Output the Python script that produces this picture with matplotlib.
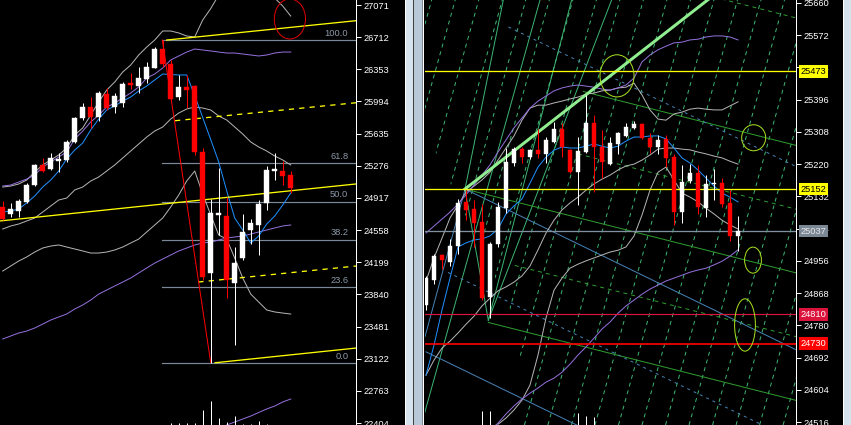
import matplotlib
matplotlib.use("Agg")
import matplotlib.pyplot as plt
from matplotlib.patches import Rectangle, Ellipse, Polygon
import numpy as np

plt.rcParams['font.family'] = ['Liberation Sans', 'DejaVu Sans']

# ================= LEFT PANEL DATA =================
L_open = [24819,24738,24771,24875,25061,25285,25240,25335,25341,25545,25810,25932,25821,26078,25932,25974,26204,26167,26245,26371,
          26583,26412,26044,26159,26167,25433,24082,24732,24721,23962,24246,24559,24615,24860,25223,25218,25173]
L_high = [24883,24864,24902,25087,25296,25360,25415,25419,25564,25824,25974,26047,26114,26141,26085,26215,26309,26382,26438,26606,
          26680,26457,26290,26290,26178,25471,24902,25248,24931,24364,24743,24682,24894,25274,25415,25333,25218]
L_low = [24670,24701,24708,24857,25050,25203,25229,25210,25322,25527,25787,25695,25779,25899,25862,25936,26130,26085,26197,26364,
         26382,25992,26010,25918,25396,23999,23074,24503,23800,23275,24224,24403,24280,24782,25117,25061,24972]
L_close = [24682,24794,24883,25061,25285,25221,25360,25346,25545,25810,25932,25821,26085,25921,26055,26189,26178,26256,26379,26583,
           26412,26022,26159,26122,25433,24034,24749,24749,23999,24190,24537,24632,24849,25229,25235,25165,25028]

L_blue = [24760,24771,24794,24861,24939,25039,25117,25218,25352,25452,25530,25676,25798,25899,25944,25999,26044,26111,26167,26234,
          26301,26295,26290,26290,26058,25815,25568,25318,24995,24693,24559,24414,24492,24626,24715,24838,24972]
L_purple_fast = [25050,25061,25095,25128,25173,25262,25318,25374,25430,25575,25664,25765,25843,25932,25977,26033,26089,26156,26256,26301,
                 26368,26457,26502,26546,26580,26569,26558,26546,26535,26535,26524,26513,26502,26513,26535,26546,26546]
L_purple_slow = [23342,23376,23409,23431,23465,23509,23554,23588,23621,23677,23722,23777,23844,23889,23934,23978,24023,24079,24135,24190,
                 24235,24280,24325,24358,24392,24414,24425,24447,24470,24481,24492,24514,24537,24559,24582,24604,24615]
L_purple_low = [np.nan]*28 + [22382,22415,22449,22482,22522,22561,22594,22639,22672]
L_band_up = [25039,25050,25073,25117,25207,25285,25341,25397,25475,25620,25698,25843,25988,26122,26211,26323,26401,26513,26602,26680,
             26781,26781,26759,26725,26714,26904,27031,27183,27350,27450,27500,27450,27350,27250,27149,27060,26948]
L_band_mid = [24570,24604,24626,24660,24693,24760,24827,24894,24916,25006,25039,25106,25151,25218,25285,25363,25441,25519,25597,25664,
              25709,25798,25865,25910,25932,25921,25899,25832,25787,25709,25631,25542,25486,25441,25385,25341,25285]
L_band_low = [24101,24157,24213,24258,24313,24358,24380,24392,24369,24347,24325,24302,24302,24313,24336,24369,24414,24458,24537,24615,
              24693,24816,24950,25106,25218,24961,24727,24503,24458,24246,24023,23844,23755,23666,23644,23632,23621]
L_volume = [np.nan]*21 + [2,2,2,2,15,24,7,3,9,1.5,1.5,4,1.5] + [np.nan]*3

L_ticks = [27071,26712,26353,25994,25635,25276,24917,24558,24199,23840,23481,23122,22763,22404]
fib_high, fib_low, fib_bar = 26680, 23074, 19.95
fib_levels = [100.0, 61.8, 50.0, 38.2, 23.6, 0.0]
# trend lines: (bar0, price0, bar1, price1)
L_yellow_solid = [(-0.34, 24660, 44.16, 25073), (20.5, 26680, 44.16, 26896), (26.54, 23077, 44.16, 23241)]
L_yellow_dash = [(21.54, 25779, 44.16, 25980), (24.45, 23978, 44.16, 24157)]
L_red_line = (19.95, 26680, 26.0, 23077)
L_red_ellipse = (35.9, 26915, 3.9, 447)

# ================= RIGHT PANEL DATA =================
R_open = [24835,24904,24971,24954,24997,25117,25097,25061,24858,25002,25099,25224,25261,25240,25259,25249,25281,25315,25259,25199,
          25254,25331,25268,25220,25275,25298,25320,25329,25290,25266,25288,25240,25090,25174,25197,25101,25166,25169,25115,25024]
R_high = [24915,24975,24975,25017,25125,25150,25122,25111,25008,25117,25265,25268,25268,25261,25315,25295,25336,25331,25261,25295,
          25409,25354,25313,25295,25308,25333,25338,25331,25304,25299,25299,25249,25218,25220,25218,25190,25206,25181,25149,25078]
R_low = [24822,24893,24935,24942,24976,25067,24995,24849,24800,24995,25088,25215,25224,25233,25236,25224,25277,25240,25197,25108,
         25250,25145,25182,25218,25248,25295,25316,25288,25251,25249,25213,25054,25060,25169,25084,25076,25122,25104,25011,24984]
R_close = [24909,24969,24957,24996,25113,25095,25060,24855,25002,25102,25227,25261,25240,25259,25249,25286,25316,25266,25199,25256,
           25331,25268,25227,25277,25304,25322,25329,25290,25266,25286,25237,25090,25172,25197,25104,25166,25169,25111,25024,25037]

R_blue = [24644,24726,24822,24909,24994,25005,25013,25016,25024,25043,25084,25106,25125,25168,25212,25239,25258,25267,25264,25264,
          25269,25275,25269,25264,25269,25283,25294,25294,25297,25297,25289,25264,25237,25223,25204,25182,25160,25141,25130,25117]
R_band_up = [24901,24964,25018,25073,25108,25144,25160,25177,25198,25231,25264,25297,25340,25373,25381,25381,25387,25392,25398,25403,
             25411,25414,25420,25422,25428,25430,25441,25409,25368,25343,25340,25357,25362,25370,25373,25370,25368,25368,25379,25390]
R_band_mid = [24644,24685,24718,24737,24759,24783,24805,24833,24854,24874,24885,24898,24915,24942,24986,25032,25067,25095,25114,25130,
              25149,25166,25179,25190,25204,25215,25220,25231,25245,25261,25264,25264,25261,25259,25253,25248,25242,25237,25228,25220]
R_band_low = [np.nan]*9 + [24510,24527,24549,24576,24617,24699,24800,24876,24909,24936,24947,24956,24964,24972,24980,24985,24994,
                           25024,25081,25149,25198,25212,25177,25141,25130,25117,25100,25084,25067,25054,25043]
R_purple_fast = [25032,25051,25070,25089,25111,25136,25163,25190,25218,25253,25286,25319,25346,25373,25392,25406,25420,25428,25433,25436,
                 25433,25430,25425,25422,25428,25436,25455,25499,25518,25532,25542,25551,25553,25559,25561,25567,25570,25570,25567,25559]
R_purple_slow = [np.nan]*8 + [24494,24513,24538,24560,24579,24595,24609,24625,24636,24652,24674,24699,24721,24745,24770,24789,24813,
                              24833,24849,24865,24879,24890,24901,24909,24917,24925,24931,24936,24945,24955,24969,24986]
R_volume = [np.nan]*7 + [14,14] + [np.nan]*10 + [12,9,8] + [np.nan]*18

R_ticks = [25660,25572,25484,25396,25308,25220,25132,25044,24956,24868,24780,24692,24604,24516]
R_hlines = [(25473, '#ffff00', 1.0, '#ffff00', 'black'), (25152, '#ffff00', 1.0, '#ffff00', 'black'),
            (25037, '#8090a0', 1.0, '#7b8794', '#e8e8e8'), (24810, '#dc143c', 0.9, '#dc143c', 'white'),
            (24730, '#ff0000', 1.3, '#ff0000', 'white')]
R_thick = (4.875, 25152, 35.2, 25668)
chan_anchor, chan_slope, chan_step = (4.875, 25152), -5.53, 348
chan_lines = [(1, 19.66, '-'), (0, 4.875, '-'), (-1, 7.79, '-'), (0.5, 19.0, '--'), (-0.5, 11.1, '--'), (2, 30.0, '--')]
blue_anchor, blue_slope = (4.875, 25152), -10.6
blue_lines = [(0, 4.875, '-'), (500, 10.3, '--'), (-250, 2.75, '--'), (-496, 0.0, '-')]
# steep solid lines: (bar0, price0, bar1, price1, extend_down)
R_fan = [(4.875, 25152, 9.66, 25668, False), (2.375, 24740, 14.25, 25668, True),
         (7.79, 24794, 18.2, 25668, False), (7.79, 24794, 23.2, 25668, False)]
R_handle = [(4.875, 25152, 7.79, 24794, '#3cb371'), (-0.125, 24749, 4.875, 25151, '#4682b4')]
grid_base, grid_slope, grid_step, grid_n = -17.1, 78.0, 2.94, 23
grid_clip = [(-0.125, 25668), (46.25, 25668), (46.25, 24508), (11.75, 24508), (11.75, 24767), (-0.125, 25313)]
R_ellipses = [(23.875, 25461, 4.25, 115), (40.96, 25292, 3.0, 71), (40.875, 24958, 2.1, 71), (39.875, 24781, 2.6, 143)]

# ================= DRAWING =================
W, H, DPI = 851, 425, 100
fig = plt.figure(figsize=(W / DPI, H / DPI), dpi=DPI, facecolor='black')

LW = 72.0 / DPI  # one pixel


def candles(ax, o, h, l, c, minh):
    for i, (oo, hh, ll, cc) in enumerate(zip(o, h, l, c)):
        col = 'white' if cc >= oo else '#ff0000'
        ax.plot([i, i], [ll, hh], color=col, lw=LW, zorder=6, solid_capstyle='butt')
        lo, hi = min(oo, cc), max(oo, cc)
        ax.add_patch(Rectangle((i - 0.3, lo), 0.6, max(hi - lo, minh), facecolor=col,
                               edgecolor=col, lw=0.3, zorder=7))


def style_axis(ax, ticks):
    ax.set_facecolor('black')
    for s in ['top', 'bottom', 'left']:
        ax.spines[s].set_visible(False)
    ax.spines['right'].set_color('white')
    ax.spines['right'].set_linewidth(LW)
    ax.set_xticks([])
    ax.yaxis.tick_right()
    ax.set_yticks(ticks)
    ax.set_yticklabels([str(t) for t in ticks])
    ax.tick_params(axis='y', colors='white', labelcolor='white', labelsize=6.7, length=3.5, width=LW, pad=2)


# ---------- left ----------
ax1 = fig.add_axes([0, 0, 356 / W, 1])
nL = len(L_open)
xL = np.arange(nL)
ax1.set_xlim(-0.34, 44.16)
ax1.set_ylim(22382, 27127)
style_axis(ax1, L_ticks)

ax1.plot(xL, L_band_up, color='#b4b4b4', lw=LW, zorder=3)
ax1.plot(xL, L_band_mid, color='#b4b4b4', lw=LW, zorder=3)
ax1.plot(xL, L_band_low, color='#b4b4b4', lw=LW, zorder=3)
ax1.plot(xL, L_purple_fast, color='#9370db', lw=LW, zorder=3)
ax1.plot(xL, L_purple_slow, color='#9370db', lw=LW, zorder=3)
ax1.plot(xL, L_purple_low, color='#9370db', lw=LW, zorder=3)
ax1.plot(xL, L_blue, color='#1e90ff', lw=LW, zorder=4)

for lvl in fib_levels:
    p = fib_low + (fib_high - fib_low) * lvl / 100.0
    ax1.plot([fib_bar, 44.16], [p, p], color='#7a8898', lw=LW * 1.2, zorder=2)
    ax1.text(43.2, p + 25, f'{lvl:.1f}', color='#8c98a8', fontsize=6.7, ha='right', va='bottom', zorder=2)

for b0, p0, b1, p1 in L_yellow_solid:
    ax1.plot([b0, b1], [p0, p1], color='#ffff00', lw=LW * 1.3, zorder=4)
for b0, p0, b1, p1 in L_yellow_dash:
    ax1.plot([b0, b1], [p0, p1], color='#ffff00', lw=LW * 1.3, ls=(0, (4, 4)), zorder=4)
b0, p0, b1, p1 = L_red_line
ax1.plot([b0, b1], [p0, p1], color='#ff0000', lw=LW, zorder=5)
eb, ep, ew, eh = L_red_ellipse
ax1.add_patch(Ellipse((eb, ep), ew, eh, fill=False, edgecolor='#e00000', lw=LW, zorder=5))

candles(ax1, L_open, L_high, L_low, L_close, 12)

axv1 = fig.add_axes([0, 0, 356 / W, 1])
axv1.set_xlim(-0.34, 44.16)
axv1.set_ylim(0, 425)
axv1.axis('off')
axv1.vlines(xL, 0, L_volume, color='white', lw=LW)

# ---------- right ----------
ax2 = fig.add_axes([425 / W, 0, 371 / W, 1])
nR = len(R_open)
xR = np.arange(nR)
XR_END = 46.25
YB, YT = 24508, 25668
ax2.set_xlim(-0.125, XR_END)
ax2.set_ylim(YB, YT)
style_axis(ax2, R_ticks)

# steep dashed grid (clipped away from the lower-left corner)
clip_poly = Polygon(grid_clip, closed=True, transform=ax2.transData, facecolor='none', edgecolor='none')
ax2.add_patch(clip_poly)
for k in range(grid_n):
    b0 = grid_base + grid_step * k
    ln, = ax2.plot([b0, b0 + (YT - YB) / grid_slope], [YB, YT], color='#3cb371', lw=LW,
                   ls=(0, (4, 4)), zorder=2)
    ln.set_clip_path(clip_poly)
# steep solid lines
for b0, p0, b1, p1, down in R_fan:
    s = (p1 - p0) / (b1 - b0)
    if down:
        b0 = b0 + (YB - p0) / s
        p0 = YB
    ax2.plot([b0, b1], [p0, p1], color='#3cb371', lw=LW, zorder=2)
for b0, p0, b1, p1, col in R_handle:
    ax2.plot([b0, b1], [p0, p1], color=col, lw=LW, zorder=2)
# descending channel
for off, start, ls in chan_lines:
    pa = chan_anchor[1] + off * chan_step + chan_slope * (start - chan_anchor[0])
    pe = pa + chan_slope * (XR_END - start)
    ax2.plot([start, XR_END], [pa, pe], color='#2e9b2e', lw=LW,
             ls=('-' if ls == '-' else (0, (4, 4))), zorder=2)
# blue lines
for off, start, ls in blue_lines:
    pa = blue_anchor[1] + off + blue_slope * (start - blue_anchor[0])
    pe = pa + blue_slope * (XR_END - start)
    ax2.plot([start, XR_END], [pa, pe], color='#4682b4', lw=LW,
             ls=('-' if ls == '-' else (0, (3, 4))), zorder=2)
# thick line
b0, p0, b1, p1 = R_thick
s = (p1 - p0) / (b1 - b0)
ax2.plot([b0, XR_END], [p0, p0 + s * (XR_END - b0)], color='#90ee90', lw=LW * 3, zorder=4)

ax2.plot(xR, R_band_up, color='#b4b4b4', lw=LW, zorder=3)
ax2.plot(xR, R_band_mid, color='#b4b4b4', lw=LW, zorder=3)
ax2.plot(xR, R_band_low, color='#b4b4b4', lw=LW, zorder=3)
ax2.plot(xR, R_purple_fast, color='#9370db', lw=LW, zorder=3)
ax2.plot(xR, R_purple_slow, color='#9370db', lw=LW, zorder=3)
ax2.plot(xR, R_blue, color='#1e90ff', lw=LW, zorder=4)

for (p, lc, lw, bg, fg) in R_hlines:
    ax2.axhline(p, color=lc, lw=LW * lw * 1.3, zorder=5)
    ax2.text(1.0 + 4.5 / 371, p, str(p), transform=ax2.get_yaxis_transform(), color=fg, fontsize=6.7,
             ha='left', va='center', zorder=20, clip_on=False,
             bbox=dict(boxstyle='square,pad=0.18', facecolor=bg, edgecolor='none'))

for (b, p, w, h) in R_ellipses:
    ax2.add_patch(Ellipse((b, p), w, h, fill=False, edgecolor='#a8e020', lw=LW, zorder=8))

candles(ax2, R_open, R_high, R_low, R_close, 3)

axv2 = fig.add_axes([425 / W, 0, 371 / W, 1])
axv2.set_xlim(-0.125, XR_END)
axv2.set_ylim(0, 425)
axv2.axis('off')
axv2.vlines(xR, 0, R_volume, color='white', lw=LW)

# ---------- frame strips ----------
def strip(x0, x1, color):
    fig.patches.append(Rectangle((x0 / W, 0), (x1 - x0) / W, 1, transform=fig.transFigure,
                                 facecolor=color, edgecolor='none', zorder=30))

strip(405, 406, '#ffffff')
strip(406, 413, '#d6e2ee')
strip(413, 414, '#404040')
strip(414, 422, '#b8c8d8')
strip(422, 423, '#808890')
strip(423, 424, '#ffffff')
strip(843, 844, '#ffffff')
strip(844, 851, '#d6e2ee')

fig.savefig('out.png', dpi=DPI, facecolor='black')
